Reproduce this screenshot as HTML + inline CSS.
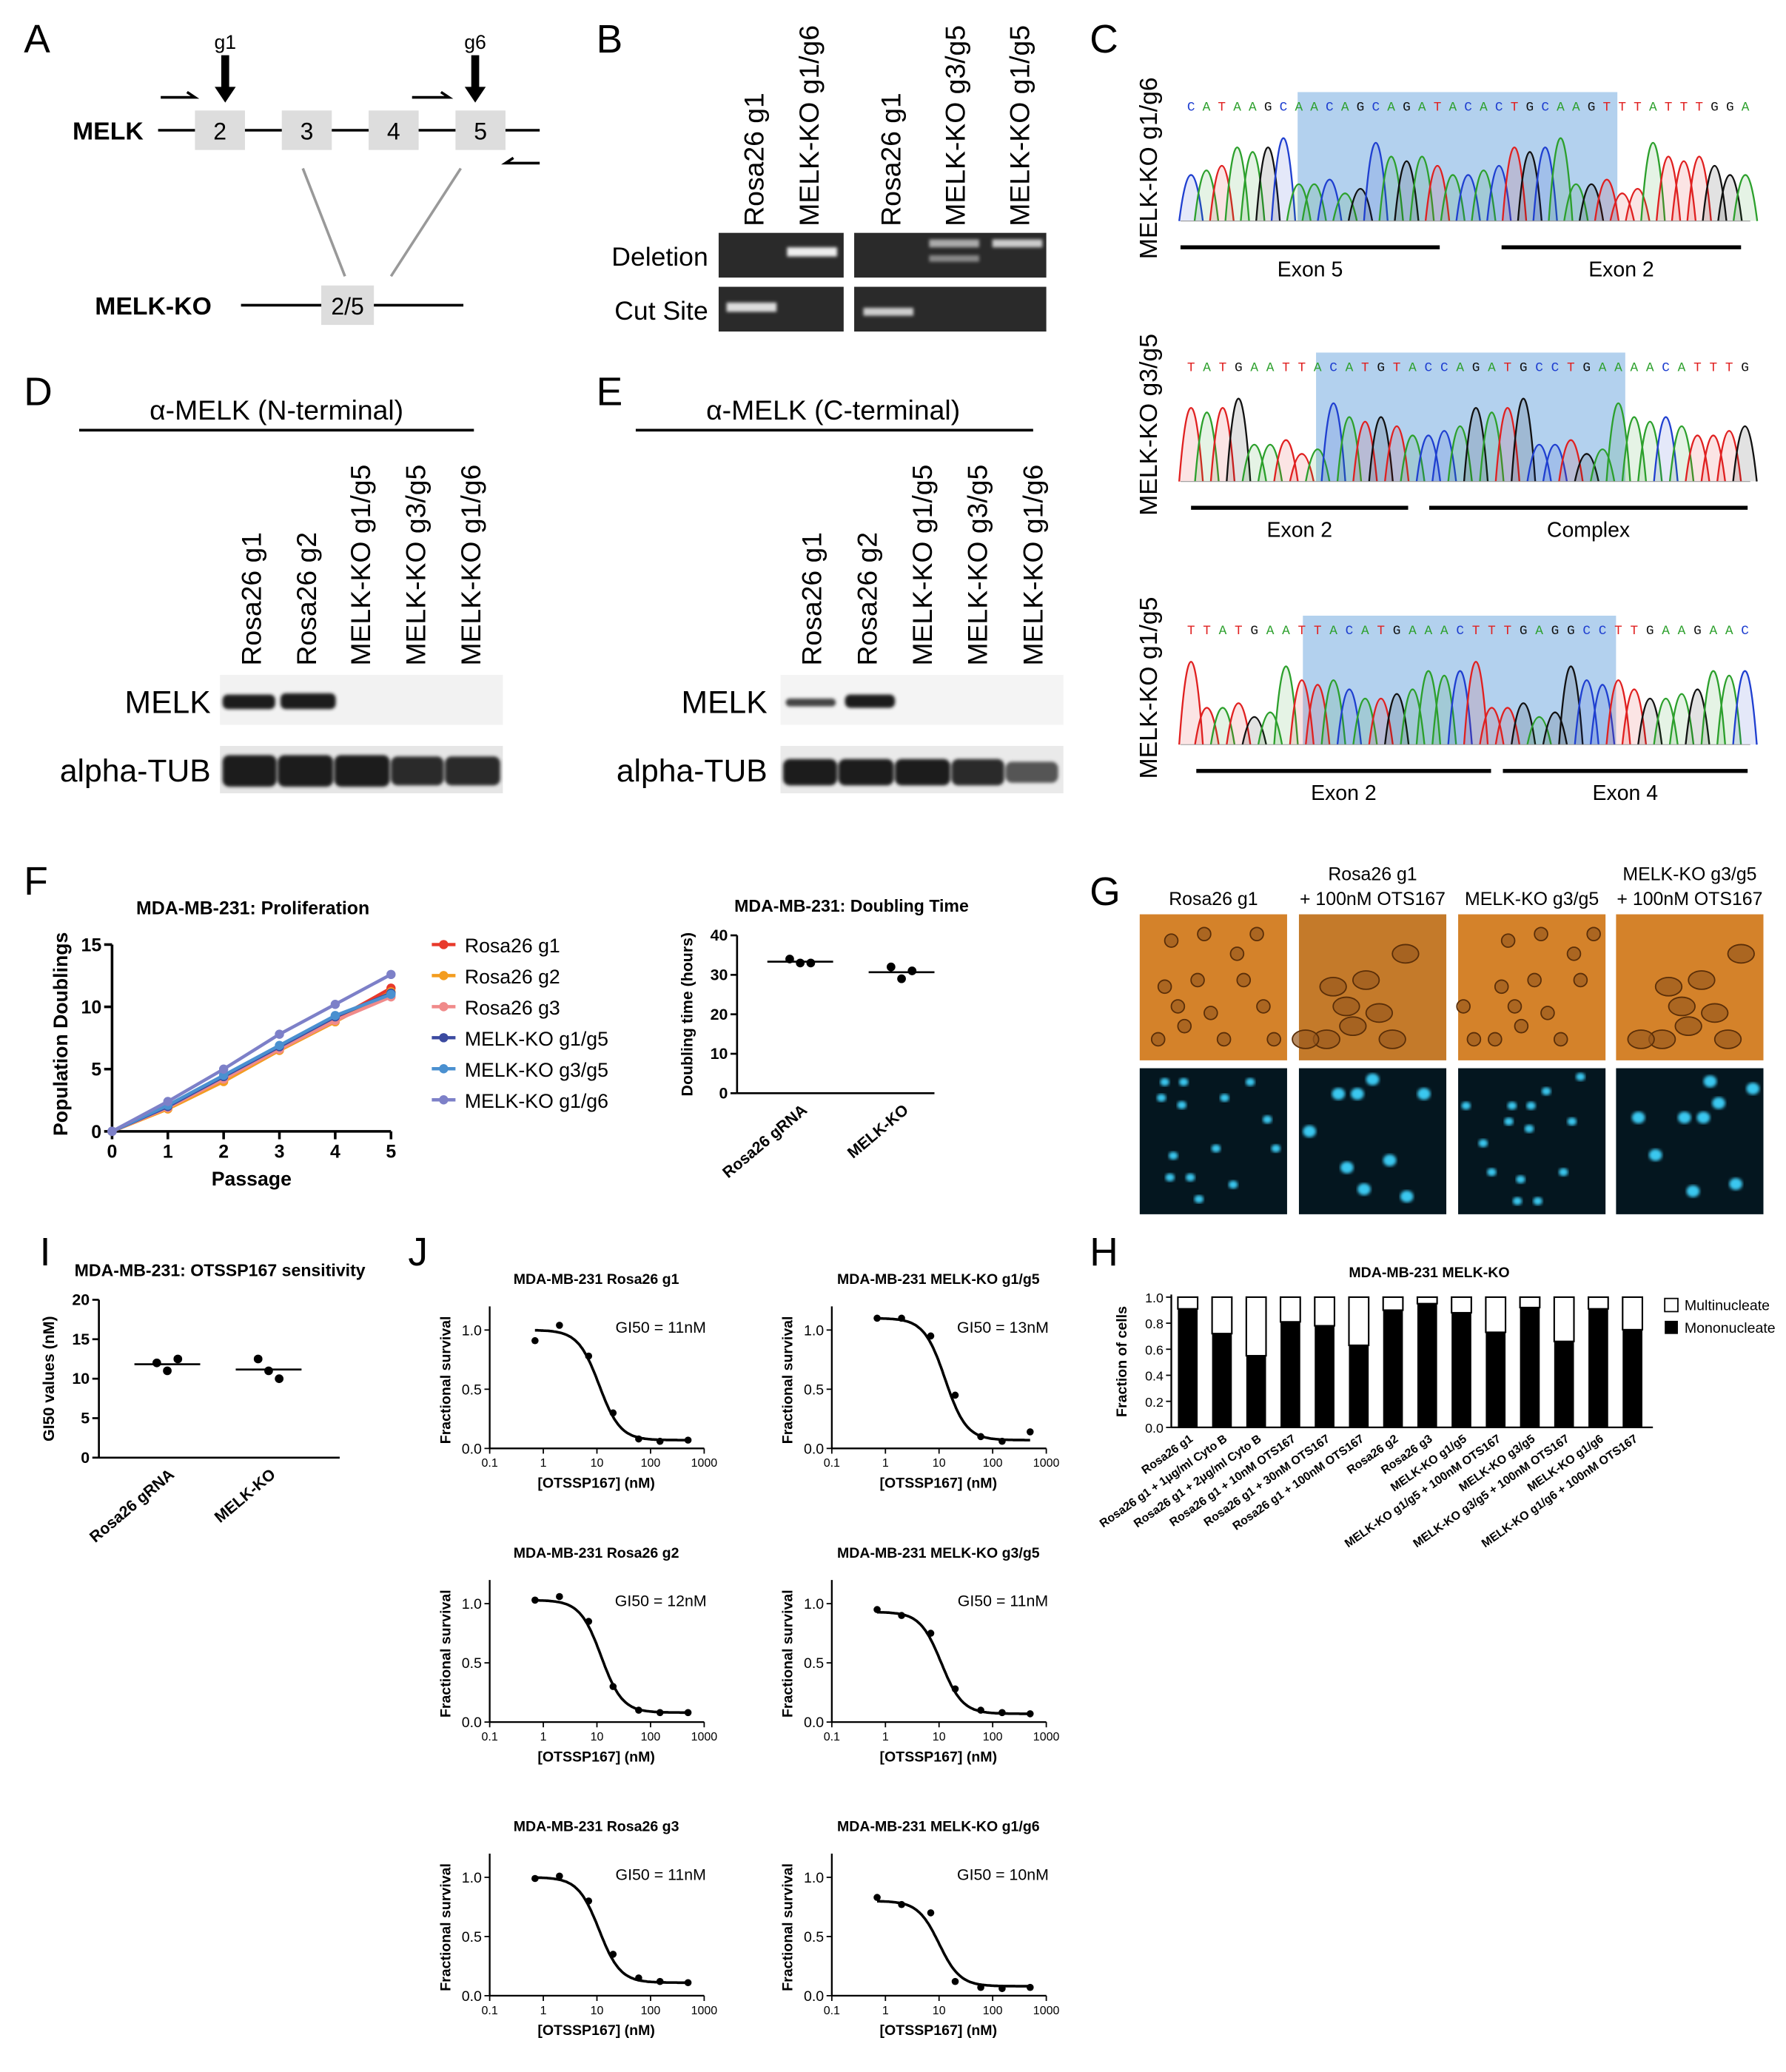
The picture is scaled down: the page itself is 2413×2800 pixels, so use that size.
<!DOCTYPE html>
<html><head><meta charset="utf-8">
<style>
html,body{margin:0;padding:0;background:#fff;}
svg{display:block;font-family:"Liberation Sans",Arial,sans-serif;}
</style></head>
<body>
<svg id="fig" width="2413" height="2800" viewBox="0 0 1357 1575" xmlns="http://www.w3.org/2000/svg">
<defs>
<filter id="blur1"><feGaussianBlur stdDeviation="1.2"/></filter>
<filter id="blur2"><feGaussianBlur stdDeviation="2.5"/></filter>
</defs>
<g>
<text x="18" y="40" font-size="30">A</text>
<text x="55" y="106" font-size="19" font-weight="bold">MELK</text>
<line x1="120" y1="99" x2="410" y2="99" stroke="#000" stroke-width="2"/>
<rect x="148" y="84" width="38" height="30" fill="#ddd"/>
<rect x="214" y="84" width="38" height="30" fill="#ddd"/>
<rect x="280" y="84" width="38" height="30" fill="#ddd"/>
<rect x="346" y="84" width="38" height="30" fill="#ddd"/>
<text x="167" y="106" font-size="18" text-anchor="middle">2</text>
<text x="233" y="106" font-size="18" text-anchor="middle">3</text>
<text x="299" y="106" font-size="18" text-anchor="middle">4</text>
<text x="365" y="106" font-size="18" text-anchor="middle">5</text>
<text x="171" y="37" font-size="15" text-anchor="middle">g1</text>
<text x="361" y="37" font-size="15" text-anchor="middle">g6</text>
<path d="M168 42 h6 v24 h5 l-8 12 l-8 -12 h5z" fill="#000"/>
<path d="M358 42 h6 v24 h5 l-8 12 l-8 -12 h5z" fill="#000"/>
<path d="M122 74 L148 74 L142 70" fill="none" stroke="#000" stroke-width="2"/>
<path d="M313 74 L341 74 L335 70" fill="none" stroke="#000" stroke-width="2"/>
<path d="M410 124 L384 124 L390 120" fill="none" stroke="#000" stroke-width="2"/>
<line x1="230" y1="128" x2="262" y2="210" stroke="#999" stroke-width="2"/>
<line x1="350" y1="128" x2="297" y2="210" stroke="#999" stroke-width="2"/>
<text x="72" y="239" font-size="19" font-weight="bold">MELK-KO</text>
<line x1="183" y1="232" x2="352" y2="232" stroke="#000" stroke-width="2"/>
<rect x="244" y="217" width="40" height="30" fill="#ddd"/>
<text x="264" y="239" font-size="18" text-anchor="middle">2/5</text>
</g>
<g>
<text x="453" y="40" font-size="30">B</text>
<g font-size="21">
<text transform="translate(580,172) rotate(-90)">Rosa26 g1</text>
<text transform="translate(622,172) rotate(-90)">MELK-KO g1/g6</text>
<text transform="translate(684,172) rotate(-90)">Rosa26 g1</text>
<text transform="translate(733,172) rotate(-90)">MELK-KO g3/g5</text>
<text transform="translate(782,172) rotate(-90)">MELK-KO g1/g5</text>
</g>
<text x="538" y="202" font-size="20" text-anchor="end">Deletion</text>
<text x="538" y="243" font-size="20" text-anchor="end">Cut Site</text>
<rect x="546" y="177" width="95" height="34" fill="#2a2a2a"/>
<rect x="649" y="177" width="146" height="34" fill="#2a2a2a"/>
<rect x="546" y="218" width="95" height="34" fill="#2a2a2a"/>
<rect x="649" y="218" width="146" height="34" fill="#2a2a2a"/>
<g filter="url(#blur1)">
<rect x="598" y="188" width="38" height="7" fill="#eee"/>
<rect x="706" y="182" width="38" height="6" fill="#aaa"/>
<rect x="706" y="194" width="38" height="5" fill="#888"/>
<rect x="754" y="182" width="38" height="6" fill="#ccc"/>
<rect x="552" y="230" width="38" height="7" fill="#ddd"/>
<rect x="656" y="234" width="38" height="6" fill="#ccc"/>
</g>
</g>
<g id="panelC">
<text x="828" y="40" font-size="30">C</text>
<g font-size="19">
<text transform="translate(879,197) rotate(-90)">MELK-KO g1/g6</text>
<text transform="translate(879,392) rotate(-90)">MELK-KO g3/g5</text>
<text transform="translate(879,592) rotate(-90)">MELK-KO g1/g5</text>
</g>
</g>
<g>
<text x="18" y="308" font-size="30">D</text>
<text x="210" y="319" font-size="21" text-anchor="middle">α-MELK (N-terminal)</text>
<line x1="60" y1="327" x2="360" y2="327" stroke="#000" stroke-width="2"/>
<g font-size="21">
<text transform="translate(198,506) rotate(-90)">Rosa26 g1</text>
<text transform="translate(240,506) rotate(-90)">Rosa26 g2</text>
<text transform="translate(281,506) rotate(-90)">MELK-KO g1/g5</text>
<text transform="translate(323,506) rotate(-90)">MELK-KO g3/g5</text>
<text transform="translate(365,506) rotate(-90)">MELK-KO g1/g6</text>
</g>
<text x="160" y="542" font-size="24" text-anchor="end">MELK</text>
<text x="160" y="594" font-size="24" text-anchor="end">alpha-TUB</text>
<rect x="167" y="513" width="215" height="38" fill="#f2f2f2"/>
<rect x="167" y="567" width="215" height="36" fill="#e6e6e6"/>
<g filter="url(#blur1)" fill="#1a1a1a">
<rect x="169" y="528" width="40" height="11" rx="4"/>
<rect x="213" y="527" width="42" height="12" rx="4"/>
<rect x="169" y="574" width="41" height="24" rx="5"/>
<rect x="211" y="574" width="42" height="24" rx="5"/>
<rect x="254" y="574" width="42" height="24" rx="5"/>
<rect x="297" y="575" width="40" height="22" rx="5" fill="#2a2a2a"/>
<rect x="338" y="575" width="42" height="22" rx="5" fill="#2a2a2a"/>
</g>
</g>
<g>
<text x="453" y="308" font-size="30">E</text>
<text x="633" y="319" font-size="21" text-anchor="middle">α-MELK (C-terminal)</text>
<line x1="483" y1="327" x2="785" y2="327" stroke="#000" stroke-width="2"/>
<g font-size="21">
<text transform="translate(624,506) rotate(-90)">Rosa26 g1</text>
<text transform="translate(666,506) rotate(-90)">Rosa26 g2</text>
<text transform="translate(708,506) rotate(-90)">MELK-KO g1/g5</text>
<text transform="translate(750,506) rotate(-90)">MELK-KO g3/g5</text>
<text transform="translate(792,506) rotate(-90)">MELK-KO g1/g6</text>
</g>
<text x="583" y="542" font-size="24" text-anchor="end">MELK</text>
<text x="583" y="594" font-size="24" text-anchor="end">alpha-TUB</text>
<rect x="593" y="513" width="215" height="38" fill="#f4f4f4"/>
<rect x="593" y="567" width="215" height="36" fill="#eaeaea"/>
<g filter="url(#blur1)" fill="#1a1a1a">
<rect x="597" y="531" width="38" height="6" rx="3" fill="#444"/>
<rect x="642" y="528" width="38" height="10" rx="4"/>
<rect x="595" y="577" width="41" height="20" rx="5"/>
<rect x="637" y="577" width="42" height="20" rx="5"/>
<rect x="680" y="577" width="42" height="20" rx="5"/>
<rect x="723" y="577" width="40" height="20" rx="5" fill="#2a2a2a"/>
<rect x="764" y="579" width="40" height="16" rx="5" fill="#555"/>
</g>
</g>
<g id="panelG">
<text x="828" y="688" font-size="30">G</text>
<g font-size="14" text-anchor="middle">
<text x="922" y="688">Rosa26 g1</text>
<text x="1043" y="669">Rosa26 g1</text>
<text x="1043" y="688">+ 100nM OTS167</text>
<text x="1164" y="688">MELK-KO g3/g5</text>
<text x="1284" y="669">MELK-KO g3/g5</text>
<text x="1284" y="688">+ 100nM OTS167</text>
</g>
</g>
<text x="18" y="680" font-size="30">F</text>
<text x="30" y="962" font-size="30">I</text>
<text x="310" y="962" font-size="30">J</text>
<text x="828" y="962" font-size="30">H</text>
<g id="charts"></g>
</svg>
<script>
const passages = [0,1,2,3,4,5];
const prolifNames = ["Rosa26 g1","Rosa26 g2","Rosa26 g3","MELK-KO g1/g5","MELK-KO g3/g5","MELK-KO g1/g6"];
const prolifColors = ["#e8392b","#f39c1f","#f08a8a","#3b4aa0","#4a90d0","#7d80c8"];
const prolifG1 = [0,1.9,4.3,6.7,9.0,11.5];
const prolifG2 = [0,1.8,4.0,6.5,8.8,11.2];
const prolifG3 = [0,1.9,4.2,6.6,8.9,10.8];
const prolifKO15 = [0,2.0,4.4,6.8,9.2,11.1];
const prolifKO35 = [0,2.1,4.5,6.9,9.3,11.0];
const prolifKO16 = [0,2.4,5.0,7.8,10.2,12.6];
const prolifTicks = [0,5,10,15];
const groups = ["Rosa26 gRNA","MELK-KO"];
const doublingRosa = [34,33,33];
const doublingKO = [32,29,31];
const doublingTicks = [0,10,20,30,40];
const gi50Rosa = [12,11,12.5];
const gi50KO = [12.5,11,10];
const gi50Ticks = [0,5,10,15,20];
const doseX = [0.7,2,7,20,60,150,500];
const drTitles = ["MDA-MB-231 Rosa26 g1","MDA-MB-231 MELK-KO g1/g5","MDA-MB-231 Rosa26 g2","MDA-MB-231 MELK-KO g3/g5","MDA-MB-231 Rosa26 g3","MDA-MB-231 MELK-KO g1/g6"];
const drGI50 = [11,13,12,11,11,10];
const drTop = [1.0,1.1,1.03,0.93,1.0,0.8];
const drBottom = [0.07,0.07,0.08,0.07,0.11,0.08];
const drY1 = [0.91,1.04,0.78,0.3,0.08,0.06,0.07];
const drY2 = [1.1,1.1,0.95,0.45,0.1,0.06,0.14];
const drY3 = [1.03,1.06,0.85,0.3,0.1,0.08,0.08];
const drY4 = [0.95,0.9,0.75,0.28,0.1,0.08,0.07];
const drY5 = [0.99,1.01,0.8,0.35,0.15,0.12,0.11];
const drY6 = [0.83,0.77,0.7,0.12,0.07,0.06,0.07];
const drTicksX = [0.1,1,10,100,1000];
const drTicksY = [0,0.5,1.0];
const hCats = ["Rosa26 g1","Rosa26 g1 + 1μg/ml Cyto B","Rosa26 g1 + 2μg/ml Cyto B","Rosa26 g1 + 10nM OTS167","Rosa26 g1 + 30nM OTS167","Rosa26 g1 + 100nM OTS167","Rosa26 g2","Rosa26 g3","MELK-KO g1/g5","MELK-KO g1/g5 + 100nM OTS167","MELK-KO g3/g5","MELK-KO g3/g5 + 100nM OTS167","MELK-KO g1/g6","MELK-KO g1/g6 + 100nM OTS167"];
const hMono = [0.91,0.72,0.55,0.81,0.78,0.63,0.9,0.95,0.88,0.73,0.92,0.66,0.91,0.75];
const hTicks = [0,0.2,0.4,0.6,0.8,1.0];

const NS = "http://www.w3.org/2000/svg";
const root = document.getElementById("charts");
function mk(tag, attrs, parent){const e=document.createElementNS(NS,tag);for(const k in attrs)e.setAttribute(k,attrs[k]);(parent||root).appendChild(e);return e;}
function txt(x,y,s,size,extra,parent){const e=mk("text",Object.assign({x:x,y:y,"font-size":size},extra||{}),parent);e.textContent=s;return e;}

{
const g=mk("g",{});


const x=p=>85+p*(297-85)/5, y=v=>860-v*(860-718)/15;
txt(192,695,"MDA-MB-231: Proliferation",14,{"text-anchor":"middle","font-weight":"bold"},g);
mk("line",{x1:85,y1:718,x2:85,y2:860,stroke:"#000","stroke-width":2},g);
mk("line",{x1:85,y1:860,x2:297,y2:860,stroke:"#000","stroke-width":2},g);
prolifTicks.forEach(t=>{mk("line",{x1:79,y1:y(t),x2:85,y2:y(t),stroke:"#000","stroke-width":2},g);txt(77,y(t)+5,String(t),14,{"text-anchor":"end","font-weight":"bold"},g);});
passages.forEach(p=>{mk("line",{x1:x(p),y1:860,x2:x(p),y2:866,stroke:"#000","stroke-width":2},g);txt(x(p),880,String(p),14,{"text-anchor":"middle","font-weight":"bold"},g);});
txt(191,901,"Passage",15,{"text-anchor":"middle","font-weight":"bold"},g);
txt(0,0,"Population Doublings",15,{"text-anchor":"middle","font-weight":"bold",transform:"translate(51,786) rotate(-90)"},g);
const series=[prolifG1,prolifG2,prolifG3,prolifKO15,prolifKO35,prolifKO16];
series.forEach((s,i)=>{
 const pl=mk("polyline",{points:s.map((v,j)=>x(passages[j])+","+y(v)).join(" "),fill:"none",stroke:prolifColors[i],"stroke-width":2.5},g);
 
 
 s.forEach((v,j)=>{const c=mk("circle",{cx:x(passages[j]),cy:y(v),r:3.5,fill:prolifColors[i]},g);
  
  });
 const ly=718+i*23.6;
 const le=mk("g",{},g);
 
 
 mk("line",{x1:328,y1:ly,x2:346,y2:ly,stroke:prolifColors[i],"stroke-width":2.5},le);
 mk("circle",{cx:337,cy:ly,r:3.5,fill:prolifColors[i]},le);
 txt(353,ly+6,prolifNames[i],15,{},le);
});
}
function scatter(name,title,tx,ty,x0,x1,y0,y1,max,ticks,ylab,a,b,gx){
 const g=mk("g",{});
 
 
 const y=v=>y0-v*(y0-y1)/max;
 txt(tx,ty,title,13,{"text-anchor":"middle","font-weight":"bold"},g);
 mk("line",{x1:x0,y1:y1,x2:x0,y2:y0,stroke:"#000","stroke-width":1.5},g);
 mk("line",{x1:x0,y1:y0,x2:x1,y2:y0,stroke:"#000","stroke-width":1.5},g);
 ticks.forEach(t=>{mk("line",{x1:x0-5,y1:y(t),x2:x0,y2:y(t),stroke:"#000","stroke-width":1.5},g);txt(x0-7,y(t)+4,String(t),12,{"text-anchor":"end","font-weight":"bold"},g);});
 txt(0,0,ylab,12,{"text-anchor":"middle","font-weight":"bold",transform:`translate(${x0-34},${(y0+y1)/2}) rotate(-90)`},g);
 [a,b].forEach((arr,k)=>{
  const cx=gx[k];
  const mean=arr.reduce((p,c)=>p+c,0)/arr.length;
  mk("line",{x1:cx-25,y1:y(mean),x2:cx+25,y2:y(mean),stroke:"#000","stroke-width":1.5},g);
  arr.forEach((v,j)=>{const c=mk("circle",{cx:cx-8+j*8,cy:y(v),r:3.3,fill:"#000"},g);
   
   });
  txt(0,0,groups[k],12,{"text-anchor":"end","font-weight":"bold",transform:`translate(${cx+6},${y0+14}) rotate(-40)`},g);
 });
}
scatter("doubling-time-chart","MDA-MB-231: Doubling Time",647,693,560,710,831,711,40,doublingTicks,"Doubling time (hours)",doublingRosa,doublingKO,[608,685]);
scatter("gi50-chart","MDA-MB-231: OTSSP167 sensitivity",167,970,75,258,1108,988,20,gi50Ticks,"GI50 values (nM)",gi50Rosa,gi50KO,[127,204]);

const drYs=[drY1,drY2,drY3,drY4,drY5,drY6];
drTitles.forEach((t,i)=>{
 const col=i%2,row=Math.floor(i/2);
 const x0=372+col*260,y0=1101+row*208;
 const g=mk("g",{});
 
 
 const x=v=>x0+(Math.log10(v)+1)*40.75, y=v=>y0-v*90;
 txt(x0+81,y0-125,t,11,{"text-anchor":"middle","font-weight":"bold"},g);
 mk("line",{x1:x0,y1:y0-108,x2:x0,y2:y0,stroke:"#000","stroke-width":1.3},g);
 mk("line",{x1:x0,y1:y0,x2:x0+163,y2:y0,stroke:"#000","stroke-width":1.3},g);
 drTicksY.forEach(v=>{mk("line",{x1:x0-4,y1:y(v),x2:x0,y2:y(v),stroke:"#000"},g);txt(x0-6,y(v)+4,v.toFixed(1),11,{"text-anchor":"end"},g);});
 drTicksX.forEach(v=>{mk("line",{x1:x(v),y1:y0,x2:x(v),y2:y0+4,stroke:"#000"},g);txt(x(v),y0+14,String(v),9,{"text-anchor":"middle"},g);});
 txt(x0+81,y0+30,"[OTSSP167] (nM)",11,{"text-anchor":"middle","font-weight":"bold"},g);
 txt(0,0,"Fractional survival",11,{"text-anchor":"middle","font-weight":"bold",transform:`translate(${x0-30},${y0-52}) rotate(-90)`},g);
 txt(x0+130,y0-88,"GI50 = "+drGI50[i]+"nM",12,{"text-anchor":"middle"},g);
 let d="";
 for(let k=0;k<=120;k++){const lv=Math.log10(doseX[0])+k*(Math.log10(doseX[6])-Math.log10(doseX[0]))/120;const v=Math.pow(10,lv);
  const f=drBottom[i]+(drTop[i]-drBottom[i])/(1+Math.pow(v/drGI50[i],2.2));d+=(k?"L":"M")+x(v).toFixed(1)+" "+y(f).toFixed(1);}
 const c=mk("path",{d:d,fill:"none",stroke:"#000","stroke-width":2},g);
 
 
 drYs[i].forEach((v,j)=>{const p=mk("circle",{cx:x(doseX[j]),cy:y(v),r:2.7,fill:"#000"},g);
  
  });
});

{
const g=mk("g",{});


const x0=890,y0=1085,y=v=>y0-v*99;
txt(1086,971,"MDA-MB-231 MELK-KO",11,{"text-anchor":"middle","font-weight":"bold"},g);
mk("line",{x1:x0,y1:y(1.02),x2:x0,y2:y0,stroke:"#000","stroke-width":1.3},g);
mk("line",{x1:x0,y1:y0,x2:1256,y2:y0,stroke:"#000","stroke-width":1.3},g);
hTicks.forEach(t=>{mk("line",{x1:x0-4,y1:y(t),x2:x0,y2:y(t),stroke:"#000"},g);txt(x0-6,y(t)+4,t.toFixed(1),10,{"text-anchor":"end"},g);});
txt(0,0,"Fraction of cells",11,{"text-anchor":"middle","font-weight":"bold",transform:`translate(${x0-34},1035) rotate(-90)`},g);
hCats.forEach((c,i)=>{
 const bx=x0+5+i*26;
 const b1=mk("rect",{x:bx,y:y(1),width:15,height:y(hMono[i])-y(1),fill:"#fff",stroke:"#000","stroke-width":1.2},g);
 
 
 const b2=mk("rect",{x:bx,y:y(hMono[i]),width:15,height:y0-y(hMono[i]),fill:"#000"},g);
 
 
 txt(0,0,c,9,{"text-anchor":"end","font-weight":"bold",transform:`translate(${bx+12},${y0+10}) rotate(-35)`},g);
});
mk("rect",{x:1265,y:987,width:10,height:10,fill:"#fff",stroke:"#000"},g);
txt(1280,996,"Multinucleate",11,{},g);
mk("rect",{x:1265,y:1004,width:10,height:10,fill:"#000"},g);
txt(1280,1013,"Mononucleate",11,{},g);
}

{
const g=document.getElementById("panelC");
const cols={A:"#2ca02c",C:"#1f3fd0",G:"#111",T:"#e02020"};
const seqs=["CATAAGCAACAGCAGATACACTGCAAGTTTATTTGGA","TATGAATTACATGTACCAGATGCCTGAAAACATTTG","TTATGAATTACATGAAACTTTGAGGCCTTGAAGAAC"];
const tops=[70,268,468],shade=[[986,1229],[1000,1235],[990,1228]];
const hts=[0.5,0.7,0.4,0.8,0.6,0.35,0.9,0.55,0.65,0.45,0.75,0.5,0.85,0.4,0.6,0.7,0.3,0.8];
const labels=[["Exon 5","Exon 2",[897,1094],[1141,1323]],["Exon 2","Complex",[905,1070],[1086,1328]],["Exon 2","Exon 4",[909,1133],[1142,1328]]];
seqs.forEach((s,k)=>{
 const t=tops[k];
 mk("rect",{x:shade[k][0],y:t,width:shade[k][1]-shade[k][0],height:98,fill:"#b3d1ee"},g);
 const step=(1330-897)/s.length;
 for(let i=0;i<s.length;i++){
  const cx=905+i*step;
  txt(cx,t+14,s[i],10,{"text-anchor":"middle",fill:cols[s[i]],"font-family":"Liberation Mono"},g);
  const h=hts[(i*7+k*3)%hts.length]*70;
  const base=t+98;
  mk("path",{d:`M${cx-9} ${base} Q${cx} ${base-2*h} ${cx+9} ${base}`,fill:cols[s[i]],"fill-opacity":0.12,stroke:cols[s[i]],"stroke-width":1.3},g);
 }
 mk("line",{x1:897,y1:t+98,x2:1330,y2:t+98,stroke:"#999","stroke-width":0.6},g);
 const L=labels[k];
 mk("line",{x1:L[2][0],y1:t+118,x2:L[2][1],y2:t+118,stroke:"#000","stroke-width":3},g);
 mk("line",{x1:L[3][0],y1:t+118,x2:L[3][1],y2:t+118,stroke:"#000","stroke-width":3},g);
 txt((L[2][0]+L[2][1])/2,t+140,L[0],16,{"text-anchor":"middle"},g);
 txt((L[3][0]+L[3][1])/2,t+140,L[1],16,{"text-anchor":"middle"},g);
});
}
{
const g=document.getElementById("panelG");
const xs=[866,987,1108,1228];
const cellsA=[[20,20],[40,50],[70,30],[90,70],[30,85],[60,95],[85,15],[15,55],[50,75],[75,50],[10,95],[98,95],[45,15],[25,70]];
xs.forEach((x,i)=>{
 mk("rect",{x:x,y:695,width:112,height:111,fill:i===1?"#c47a2a":"#d4822a"},g);
 mk("rect",{x:x,y:812,width:112,height:111,fill:"#04161f"},g);
 cellsA.forEach((c,j)=>{
  if((i===1||i===3) && j%3===0) return;
  const big=(i===1||i===3);
  mk("ellipse",{cx:x+((c[0]+i*7)%104)+4,cy:695+c[1],rx:big?10:5,ry:big?7:5,fill:"#9a5a1e","fill-opacity":0.7,stroke:"#5a2e08","stroke-width":1},g);
  mk("ellipse",{cx:x+((c[0]*1.3+i*11)%100)+6,cy:812+((c[1]*1.1+i*9)%100)+6,rx:big?5:3.5,ry:big?4.5:3,fill:"#3ac8f0",filter:"url(#blur1)"},g);
 });
});
}
</script>
</body></html>
